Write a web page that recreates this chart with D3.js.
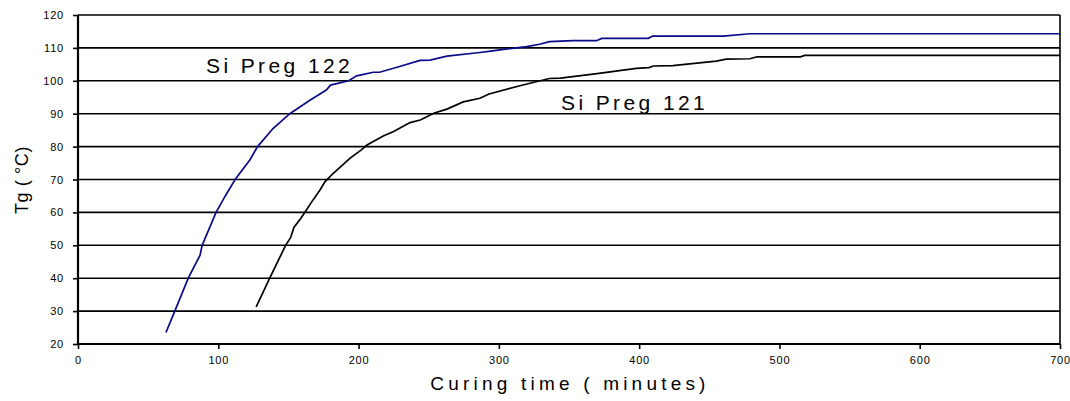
<!DOCTYPE html>
<html>
<head>
<meta charset="utf-8">
<script src="https://cdn.jsdelivr.net/npm/d3@7"></script>
<style>
  body { margin: 0; background: #fff; }
  text { font-family: "Liberation Sans", Arial, sans-serif; fill: #000; }
</style>
</head>
<body>
<svg id="chart" width="1070" height="401"></svg>
<script>
// Si Preg 122 (blue)
var timeA = [62.7, 69, 78.6, 87, 88.5, 98.4, 105, 112, 122.6, 128, 139, 151, 165, 177, 180, 193, 198.6, 210.5, 215, 228, 243.8, 251, 263, 286.5, 294, 306, 320, 329, 336, 353, 369.7, 373.3, 406.5, 409.6, 460, 479, 700]
var tgA = [23.5, 30, 40, 47, 50, 60, 65, 70, 76, 80, 85.5, 90, 94, 97.2, 98.7, 100, 101.5, 102.6, 102.6, 104.2, 106.2, 106.3, 107.5, 108.6, 109, 109.7, 110.4, 111.1, 111.9, 112.2, 112.2, 112.9, 112.9, 113.6, 113.6, 114.3, 114.3]

// Si Preg 121 (black)
var timeB = [127, 137, 148, 151.5, 154, 158.5, 162, 166.6, 172.5, 176, 182, 194, 202, 206, 217.6, 225, 236.7, 244, 254, 263, 274.6, 286.5, 293, 315, 336, 344, 370, 398, 407, 410, 424, 455, 462, 479, 484, 515, 518, 700]
var tgB = [31.3, 40.3, 50, 52.3, 55.5, 58, 60.2, 63.2, 66.8, 69.3, 71.9, 76.5, 79, 80.5, 83.2, 84.6, 87.3, 88.1, 90.2, 91.4, 93.6, 94.7, 96, 98.5, 100.7, 100.8, 102.2, 103.8, 104, 104.5, 104.6, 106, 106.6, 106.7, 107.3, 107.3, 107.7, 107.7]

var xTicks = [0, 100, 200, 300, 400, 500, 600, 700]
var yTicks = [20, 30, 40, 50, 60, 70, 80, 90, 100, 110, 120]

var svg = d3.select("#chart")
var xleft = 78, xright = 1060, ytop = 15, ybottom = 344

var x = d3.scaleLinear().domain([0, 700]).range([xleft, xright])
var y = d3.scaleLinear().domain([20, 120]).range([ybottom, ytop])

// horizontal gridlines
svg.append("g")
    .selectAll("line")
    .data(yTicks)
    .enter()
    .append("line")
    .attr("x1", xleft)
    .attr("x2", xright)
    .attr("y1", function(d) { return y(d); })
    .attr("y2", function(d) { return y(d); })
    .attr("stroke", "#000")
    .attr("stroke-width", 1.6)

// right border
svg.append("line")
    .attr("x1", xright).attr("x2", xright)
    .attr("y1", ytop).attr("y2", ybottom)
    .attr("stroke", "#000")
    .attr("stroke-width", 1.6)

var xAxis = d3.axisBottom(x).tickValues(xTicks).tickSize(5).tickPadding(7)
var yAxis = d3.axisLeft(y).tickValues(yTicks).tickSize(5).tickPadding(9)

var gx = svg.append("g")
    .attr("transform", "translate(0," + ybottom + ")")
    .call(xAxis)
var gy = svg.append("g")
    .attr("transform", "translate(" + xleft + ",0)")
    .call(yAxis)

;[gx, gy].forEach(function(g) {
    g.select(".domain").attr("stroke", "#000").attr("stroke-width", 2.2)
    g.selectAll(".tick line").attr("stroke", "#000").attr("stroke-width", 1.6)
    g.selectAll(".tick text")
        .attr("fill", "#000")
        .style("font-family", "'Liberation Sans', Arial, sans-serif")
        .style("font-size", "11px")
        .style("letter-spacing", "0.8px")
})
gx.select(".domain").attr("d", "M" + xleft + ",0H" + xright)
gy.select(".domain").attr("d", "M0," + ytop + "V" + ybottom)

var line = d3.line()
    .x(function(d) { return x(d[0]); })
    .y(function(d) { return y(d[1]); })

svg.append("path")
    .attr("d", line(d3.zip(timeA, tgA)))
    .attr("fill", "none")
    .attr("stroke", "#0b0b8a")
    .attr("stroke-width", 1.7)

svg.append("path")
    .attr("d", line(d3.zip(timeB, tgB)))
    .attr("fill", "none")
    .attr("stroke", "#000")
    .attr("stroke-width", 1.7)

// series labels
svg.append("text")
    .attr("x", 206).attr("y", 73)
    .style("font-size", "21px")
    .style("letter-spacing", "3.4px")
    .text("Si Preg 122")

svg.append("text")
    .attr("x", 561).attr("y", 110)
    .style("font-size", "21px")
    .style("letter-spacing", "3.4px")
    .text("Si Preg 121")

// axis titles
svg.append("text")
    .attr("x", 570).attr("y", 390)
    .attr("text-anchor", "middle")
    .style("font-size", "19px")
    .style("letter-spacing", "4.2px")
    .text("Curing time ( minutes)")

svg.append("text")
    .attr("transform", "translate(28,180) rotate(-90)")
    .attr("text-anchor", "middle")
    .style("font-size", "18px")
    .style("letter-spacing", "0.6px")
    .text("Tg ( °C)")
</script>
</body>
</html>
